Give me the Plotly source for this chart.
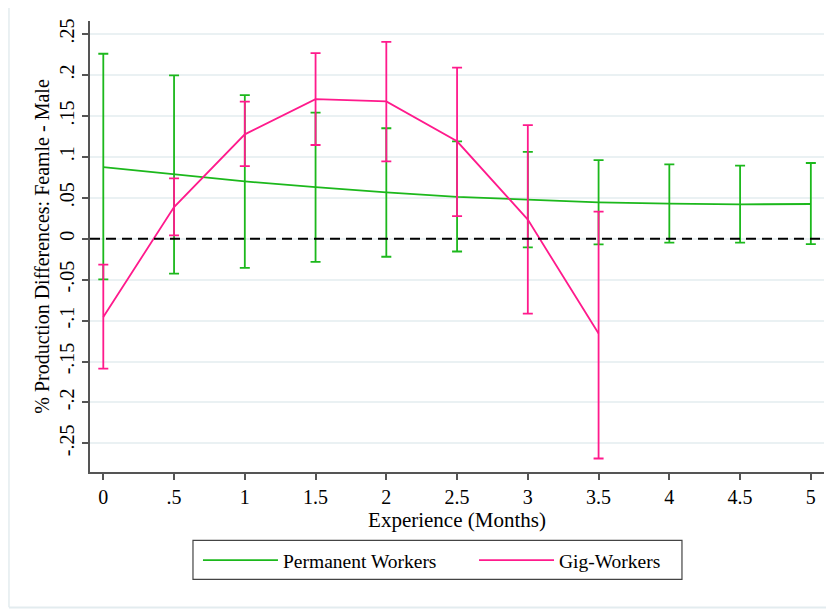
import plotly.graph_objects as go

experience = [0, 0.5, 1, 1.5, 2, 2.5, 3, 3.5, 4, 4.5, 5]

perm_est = [0.0875, 0.0786, 0.0700, 0.0630, 0.0566, 0.0512, 0.0477, 0.0444, 0.0428, 0.0420, 0.0424]
perm_hi = [0.2260, 0.1995, 0.1755, 0.1540, 0.1350, 0.1190, 0.1060, 0.0961, 0.0908, 0.0892, 0.0925]
perm_lo = [-0.0496, -0.0426, -0.0357, -0.0284, -0.0220, -0.0156, -0.0105, -0.0068, -0.0048, -0.0048, -0.0065]

gig_x = [0, 0.5, 1, 1.5, 2, 2.5, 3, 3.5]
gig_est = [-0.0956, 0.0387, 0.1275, 0.1706, 0.1678, 0.1190, 0.0233, -0.1159]
gig_hi = [-0.0317, 0.0737, 0.1674, 0.2268, 0.2406, 0.2090, 0.1389, 0.0330]
gig_lo = [-0.1587, 0.0041, 0.0888, 0.1145, 0.0945, 0.0277, -0.0915, -0.2685]

x_ticks = [0, 0.5, 1, 1.5, 2, 2.5, 3, 3.5, 4, 4.5, 5]
x_labels = ["0", ".5", "1", "1.5", "2", "2.5", "3", "3.5", "4", "4.5", "5"]
y_ticks = [-0.25, -0.2, -0.15, -0.1, -0.05, 0, 0.05, 0.1, 0.15, 0.2, 0.25]
y_labels = ["-.25", "-.2", "-.15", "-.1", "-.05", "0", ".05", ".1", ".15", ".2", ".25"]

GREEN = "#1cb81c"
PINK = "#ff1a8c"
FONT = "Liberation Serif"

fig = go.Figure()

fig.add_trace(go.Scatter(
    x=experience, y=perm_est, mode="lines", name="Permanent Workers", legend="legend",
    line=dict(color=GREEN, width=1.8),
    error_y=dict(type="data", symmetric=False,
                 array=[h - e for h, e in zip(perm_hi, perm_est)],
                 arrayminus=[e - l for e, l in zip(perm_est, perm_lo)],
                 color=GREEN, thickness=1.8, width=5),
))
fig.add_trace(go.Scatter(
    x=gig_x, y=gig_est, mode="lines", name="Gig-Workers", legend="legend2",
    line=dict(color=PINK, width=1.8),
    error_y=dict(type="data", symmetric=False,
                 array=[h - e for h, e in zip(gig_hi, gig_est)],
                 arrayminus=[e - l for e, l in zip(gig_est, gig_lo)],
                 color=PINK, thickness=1.8, width=5),
))

# zero reference line
fig.add_shape(type="line", xref="paper", x0=0, x1=1, yref="y", y0=0, y1=0,
              line=dict(color="black", width=2, dash="10px,6px"), layer="above")

# faint outer frame (left and bottom)
fig.add_shape(type="line", xref="paper", yref="paper", x0=-0.1104, x1=-0.1104, y0=-0.30, y1=1.05,
              line=dict(color="#e3ecef", width=1.5))
fig.add_shape(type="line", xref="paper", yref="paper", x0=-0.1104, x1=1.02, y0=-0.3002, y1=-0.3002,
              line=dict(color="#e3ecef", width=2))

# legend frame
fig.add_shape(type="rect", xref="paper", yref="paper", x0=0.1403, x1=0.8065, y0=-0.2381, y1=-0.1515,
              line=dict(color="#444", width=1.2), fillcolor="rgba(0,0,0,0)")

leg_common = dict(orientation="h", xanchor="left", yanchor="middle", y=-0.1959,
                  bgcolor="rgba(0,0,0,0)", borderwidth=0,
                  font=dict(family=FONT, size=19.5), itemwidth=75)

fig.update_layout(
    width=826, height=602,
    margin=dict(l=82, r=10, t=13, b=138.3, autoexpand=False),
    paper_bgcolor="white", plot_bgcolor="white",
    font=dict(family=FONT, size=20, color="black"),
    showlegend=True,
    legend=dict(x=0.1471, **leg_common),
    legend2=dict(x=0.5232, **leg_common),
    xaxis=dict(range=[-0.094, 5.093], tickvals=x_ticks, ticktext=x_labels, automargin=False,
               showgrid=False, zeroline=False, showline=True, linecolor="#555", linewidth=1.5,
               ticks="outside", ticklen=6, tickcolor="#555", tickwidth=1.5,
               tickfont=dict(size=20),
               title=dict(text="Experience (Months)", font=dict(size=21), standoff=0)),
    yaxis=dict(range=[-0.285, 0.266], tickvals=y_ticks, ticktext=y_labels, tickangle=-90,
               automargin=False,
               showgrid=True, gridcolor="#eaf1f3", gridwidth=1.5, zeroline=False,
               showline=True, linecolor="#555", linewidth=1.5,
               ticks="outside", ticklen=6, tickcolor="#555", tickwidth=1.5,
               tickfont=dict(size=20),
               title=dict(text="% Production Differences: Feamle - Male", font=dict(size=20), standoff=1)),
)

fig.write_html("out.html")
